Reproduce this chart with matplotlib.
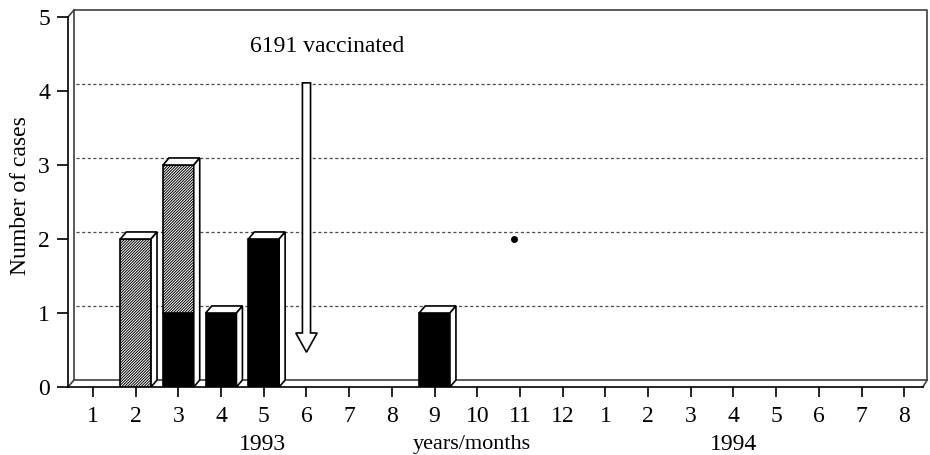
import numpy as np
import matplotlib.pyplot as plt
from matplotlib.patches import Polygon, FancyArrow

plt.rcParams['font.family'] = ['Liberation Serif', 'DejaVu Serif']
plt.rcParams['hatch.linewidth'] = 0.7

# months Jan 1993 .. Aug 1994
months = np.arange(1, 21)
month_labels = [str(m) for m in range(1, 13)] + [str(m) for m in range(1, 9)]
year_labels = ["1993", "1994"]

# cases per month: solid black part and hatched part stacked on top
solid_cases = [0, 0, 1, 1, 2, 0, 0, 0, 1, 0, 0, 0, 0, 0, 0, 0, 0, 0, 0, 0]
hatched_cases = [0, 2, 2, 0, 0, 0, 0, 0, 0, 0, 0, 0, 0, 0, 0, 0, 0, 0, 0, 0]

vacc_month = 6
vacc_text = "6191 vaccinated"
stray_dot = (10.85, 2.0)

solid = np.array(solid_cases)
hatched = np.array(hatched_cases)
total = solid + hatched

# pseudo-3d geometry (data units)
x0, x1 = 0.415, 20.555
dx, dy = 0.14, 0.095
bar_w = 0.72
fs = 17
lw = 1.2

fig = plt.figure(figsize=(9.3, 4.55), dpi=100)
ax = fig.add_axes([68 / 930, 68 / 455, 860 / 930, 382 / 455])
ax.set_xlim(x0, x1)
ax.set_ylim(0, 382 / 74)

# back wall and floor
wall_x = [x0 + dx, x0 + dx, x1 - 0.02, x1 - 0.02]
wall_y = [dy, 5 + dy, 5 + dy, dy]
ax.plot(wall_x, wall_y, color='0.25', lw=lw, clip_on=False, zorder=1)
ax.plot([x0, x0 + dx], [5, 5 + dy], color='0.25', lw=lw, clip_on=False, zorder=1)
ax.plot([x0 + dx, x1 - 0.02], [dy, dy], color='0.25', lw=lw, clip_on=False, zorder=1)
ax.plot([x0, x0 + dx], [0, dy], color='0.25', lw=lw, clip_on=False, zorder=1)
ax.plot([x1 - 0.12, x1 - 0.02], [0, dy], color='0.25', lw=lw, clip_on=False, zorder=1)
ax.hlines(np.arange(1, 5) + dy, x0 + dx + 0.05, x1 - 0.02, colors='0.3',
          linestyles=(0, (2.5, 2)), lw=0.9, zorder=1)

# front faces
m = solid > 0
ax.bar(months[m], solid[m], width=bar_w, color='black', edgecolor='black',
       lw=lw, zorder=3)
m = hatched > 0
ax.bar(months[m], hatched[m], bottom=solid[m], width=bar_w, color='white',
       edgecolor='black', hatch='////////////', lw=lw, zorder=3)

# tops and sides
for x, h in zip(months, total):
    if h == 0:
        continue
    l, r = x - bar_w / 2, x + bar_w / 2
    top = Polygon([(l, h), (r, h), (r + dx, h + dy), (l + dx, h + dy)],
                  closed=True, fc='white', ec='black', lw=lw, zorder=3)
    side = Polygon([(r, 0), (r + dx, dy), (r + dx, h + dy), (r, h)],
                   closed=True, fc='white', ec='black', lw=lw, zorder=3)
    ax.add_patch(top)
    ax.add_patch(side)

# vaccination arrow
ax.add_patch(FancyArrow(vacc_month, 4.11, 0, -3.64, width=0.19,
                        head_width=0.5, head_length=0.26,
                        length_includes_head=True, fc='white', ec='black',
                        lw=lw, zorder=4))
ax.text(4.68, 4.6, vacc_text, fontsize=fs, ha='left', va='center')
ax.plot(*stray_dot, 'o', color='black', ms=4, zorder=4)

# axes
for s in ['top', 'right']:
    ax.spines[s].set_visible(False)
ax.spines['left'].set_bounds(0, 5)
ax.spines['bottom'].set_bounds(x0, x1 - 0.12)
ax.spines['left'].set_linewidth(lw)
ax.spines['bottom'].set_linewidth(lw)
ax.set_yticks(range(0, 6))
ax.set_xticks(months, month_labels)
ax.tick_params(axis='y', length=8, width=lw, pad=5, labelsize=fs)
ax.tick_params(axis='x', length=7, width=lw, pad=7, labelsize=fs)

ax.set_ylabel("Number of cases", fontsize=fs, labelpad=5)
fig.text(262 / 930, 1 - 444 / 455, year_labels[0], fontsize=fs,
         ha='center', va='center')
fig.text(472 / 930, 1 - 444 / 455, "years/months", fontsize=16,
         ha='center', va='center')
fig.text(734 / 930, 1 - 444 / 455, year_labels[1], fontsize=fs,
         ha='center', va='center')

fig.savefig("out.png", dpi=100)
